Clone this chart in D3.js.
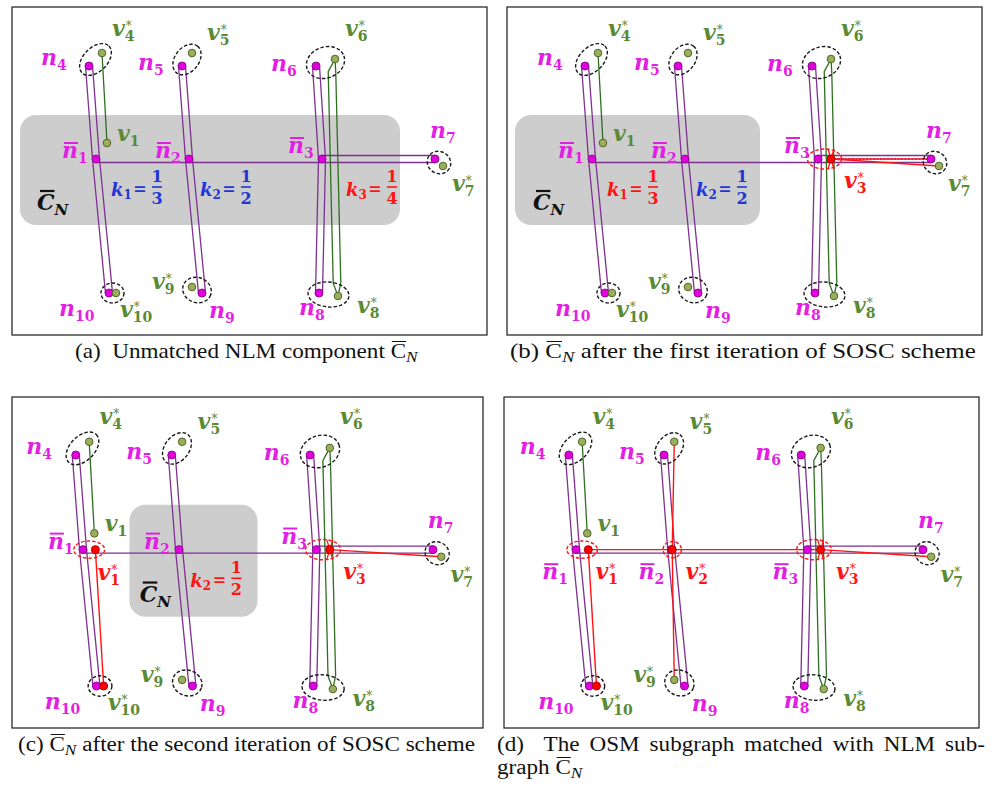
<!DOCTYPE html>
<html><head><meta charset="utf-8">
<script src="https://cdn.jsdelivr.net/npm/d3@7"></script>
<style>body{margin:0;background:#fff}svg{display:block}</style>
</head><body>
<svg id="fig" width="999" height="785"></svg>
<script>
// ---------- graph data (layout units of the base drawing) ----------
const nodeIds = ["n4","v4s","n5","v5s","n6","v6s","n1b","v1","v1s","n2b","v2s","n3b","v3s","n7","v7s","n10","v10s","n9","v9s","n8","v8s","g6","g8"];
const nodeX   = [89, 102, 182, 192, 316, 335, 96, 107, 108, 189, 190, 322, 335, 435, 443, 109, 116, 202, 192, 319, 338, 332, 337];
const nodeY   = [66, 53, 66, 53, 66, 59, 159, 143, 159, 159, 159, 159, 159, 159, 166, 293, 293, 293, 287, 293, 296, 72, 283];

// NLM roads (double lines) and the NLM link joining the junctions
const nlmRoads = [["n4","n1b","n10"], ["n5","n2b","n9"], ["n6","n3b","n8"], ["n3b","n7"]];
const nlmLink  = ["n1b","n2b","n3b"];
// OSM ways
const osmSingle = [["v4s","v1"]];
const osmDouble = ["v6s","g6","g8","v8s"];

const nlmNodes = ["n4","n5","n6","n1b","n2b","n3b","n7","n10","n9","n8"];
const osmNodes = ["v4s","v5s","v6s","v1","v7s","v9s","v8s","v10s"];

// candidate pairs circled with dashed ellipses: [a, b, rx, ry, rotation]
const pairA   = ["n4","n5","n6","n7","n10","n9","n8"];
const pairB   = ["v4s","v5s","v6s","v7s","v10s","v9s","v8s"];
const pairRx  = [19, 17, 19.5, 12, 11.5, 14.5, 20.5];
const pairRy  = [12, 12, 15.5, 11, 10, 12.5, 12.5];
const pairRot = [-45, -52, -20, 30, 0, 20, 5];

// node labels
const labelMain = ["n","v","n","v","n","v","v","n","v","n","v","v","n","n","v"];
const labelSub  = ["4","4","5","5","6","6","1","7","7","10","10","9","9","8","8"];
const labelStar = [0,1,0,1,0,1,0,0,1,0,1,1,0,0,1];
const labelX    = [41,112,138,207,271,345,117,430,452,59,120,152,209,299,357];
const labelY    = [65,36,70,40,71,36,141,138,191,316,317,289,318,315,313];

// per-panel state: (a) (b) (c) (d)
const matched      = [[], ["v3s"], ["v1s","v3s","v10s"], ["v1s","v2s","v3s","v10s"]];
const redRings     = [[], [["n3b","v3s"]], [["n1b","v1s"],["n3b","v3s"]], [["n1b","v1s"],["v2s"],["n3b","v3s"]]];
const redPaths     = [[], [["v3s","v7s"],["v3s","n7"]], [["v1s","v10s"],["v3s","v7s"]],
                      [["v1s","v10s"],["v5s","v2s","v9s"],["v1s","v2s","v3s","v7s"]]];
const bluePaths    = [[], [["v3s","n7"]], [], []];
const junctionSub  = ["1","2","3"];
const junctionX    = [[62,155,288],[62,155,288],[62,155,288],[63,157,288]];
const junctionY    = [[158,158,153],[158,158,153],[158,158,153],[188,188,188]];
const matchSub     = [[], ["3"], ["1","3"], ["1","2","3"]];
const matchX       = [[], [348], [110,348], [115,203,350]];
const matchY       = [[], [188], [189,188], [188,188,188]];
const kSub         = [["1","2","3"], ["1","2"], ["2"], []];
const kDen         = [["3","2","4"], ["3","2"], ["2"], []];
const kCol         = [["blue","blue","red"], ["red","blue"], ["red"], []];
const kX           = {"1":111, "2":200, "3":346};
const kY           = 196;
const boxX0        = [20, 19, 141, null];
const boxX1        = [400, 264, 265, null];
const boxY0 = 115, boxY1 = 225;
const cnX          = [37, 37, 151, null];
const cnY          = 210;

// captions
const capPre  = ["(a)  Unmatched NLM component ", "(b) ", "(c) ", "graph "];
const capPost = ["", " after the first iteration of SOSC scheme", " after the second iteration of SOSC scheme", ""];
const capLineD = "(d)  The OSM subgraph matched with NLM sub-";

// ---------- styling / layout ----------
const C = {
  purple: "#7d3190", green: "#2f6f22", red: "#ff1414", blue: "#2236d8",
  magenta: "#e41fe4", dotMag: "#e000e0", dotMagS: "#8e0d8e",
  dotGreen: "#9aae5c", dotGreenS: "#4f6427", greenTxt: "#5a8a33", box: "#cdcdcd"
};
const LF = "'DejaVu Serif', serif";
const CF = "'Liberation Serif', 'Times New Roman', serif";

const panelBox    = [[12,7,487,335],[507,7,982,335],[12,397,483,728],[504,397,979,728]];
const xDomain = [96, 435], yDomain = [66, 293];
const panelXRange = [[96,435],[592,931],[83,433],[576,923]];
const panelYRange = [[66,293],[66,293],[455,686],[455,686]];
const capPos = [[75,358,343],[510,358,466],[18,751,457],[497,774,null]];

const svg = d3.select("#fig");
svg.append("rect").attr("width", 999).attr("height", 785).attr("fill", "#fff");
const line = d3.line();

function offsetPath(pts, d, taper) {
  const n = pts.length, out = [];
  for (let i = 0; i < n; i++) {
    let nx = 0, ny = 0;
    if (i > 0) { const dx = pts[i][0]-pts[i-1][0], dy = pts[i][1]-pts[i-1][1], L = Math.hypot(dx,dy); nx += -dy/L; ny += dx/L; }
    if (i < n-1) { const dx = pts[i+1][0]-pts[i][0], dy = pts[i+1][1]-pts[i][1], L = Math.hypot(dx,dy); nx += -dy/L; ny += dx/L; }
    const L = Math.hypot(nx, ny); nx /= L; ny /= L;
    const dd = (taper && (i === 0 || i === n-1)) ? 0 : d;
    out.push([pts[i][0] + nx*dd, pts[i][1] + ny*dd]);
  }
  return out;
}

// symbol label: main letter, subscript, optional star stacked over the subscript, optional overbar
function nodeLabel(g, x, y, main, sub, star, bar, color) {
  const t = g.append("text").attr("x", x).attr("y", y).attr("fill", color)
    .attr("font-family", LF).attr("font-weight", "bold").attr("font-style", "italic").attr("font-size", 22);
  t.append("tspan").text(main);
  const mw = t.node().getComputedTextLength();
  t.append("tspan").attr("font-size", 14).attr("font-style", "normal").attr("dy", 5).text(sub);
  const sw = t.node().getComputedTextLength() - mw;
  if (star) t.append("tspan").attr("font-size", 12).attr("font-weight", "normal").attr("font-style", "normal")
    .attr("dx", -sw + 1).attr("dy", -11).text("*");
  if (bar) g.append("line").attr("x1", x + 2).attr("x2", x + mw).attr("y1", y - 15).attr("y2", y - 15)
    .attr("stroke", color).attr("stroke-width", 2);
}

function kLabel(g, x, y, sub, den, color) {
  const t = g.append("text").attr("x", x).attr("y", y).attr("fill", color).attr("font-family", LF)
    .attr("font-weight", "bold").attr("font-style", "italic").attr("font-size", 18);
  t.append("tspan").text("k");
  t.append("tspan").attr("font-size", 12).attr("font-style", "normal").attr("dy", 3).text(sub);
  g.append("text").attr("x", x + 29).attr("y", y - 2).attr("text-anchor", "middle").attr("fill", color)
    .attr("font-family", LF).attr("font-weight", "bold").attr("font-size", 16).text("=");
  const cx = x + 46;
  g.append("text").attr("x", cx).attr("y", y - 14).attr("text-anchor", "middle").attr("fill", color)
    .attr("font-family", LF).attr("font-weight", "bold").attr("font-size", 16).text("1");
  g.append("line").attr("x1", cx - 5).attr("x2", cx + 5).attr("y1", y - 9).attr("y2", y - 9)
    .attr("stroke", color).attr("stroke-width", 1.6);
  g.append("text").attr("x", cx).attr("y", y + 8).attr("text-anchor", "middle").attr("fill", color)
    .attr("font-family", LF).attr("font-weight", "bold").attr("font-size", 16).text(den);
}

// caption line; width fit either by a horizontal stretch or, with a given stretch, by justified spacing
function caption(g, x0, y0, width, pre, cn, post, fixedScale) {
  const cg = g.append("g");
  const t = cg.append("text").attr("x", x0).attr("y", y0).attr("fill", "#111")
    .attr("font-family", CF).attr("font-size", 20).style("white-space", "pre");
  t.append("tspan").text(pre);
  let ci = -1;
  if (cn) {
    ci = pre.length;
    t.append("tspan").text("C");
    t.append("tspan").attr("font-style", "italic").attr("font-size", 15).attr("dy", 4).text("N");
    if (post) t.append("tspan").attr("dy", -4).text(post);
  } else if (post) t.append("tspan").text(post);
  const w = t.node().getComputedTextLength();
  let s = fixedScale || 1;
  if (width && !fixedScale) s = width / w;
  if (width && fixedScale) {
    const n = (pre + post).split(" ").length - 1;
    t.attr("word-spacing", (width / s - w) / n);
  }
  cg.attr("transform", `translate(${x0},0) scale(${s},1) translate(${-x0},0)`);
  if (ci >= 0) {
    const a = t.node().getStartPositionOfChar(ci).x, b = t.node().getEndPositionOfChar(ci).x;
    cg.append("line").attr("x1", a + 1).attr("x2", b).attr("y1", y0 - 16.5).attr("y2", y0 - 16.5)
      .attr("stroke", "#111").attr("stroke-width", 1);
  }
  return s;
}

let capScale = 1;
[0, 1, 2, 3].forEach(i => {
  const g = svg.append("g");
  const sx = d3.scaleLinear().domain(xDomain).range(panelXRange[i]);
  const sy = d3.scaleLinear().domain(yDomain).range(panelYRange[i]);
  const kx = (panelXRange[i][1] - panelXRange[i][0]) / (xDomain[1] - xDomain[0]);
  const ky = (panelYRange[i][1] - panelYRange[i][0]) / (yDomain[1] - yDomain[0]);
  const pt = id => { const k = nodeIds.indexOf(id); return [sx(nodeX[k]), sy(nodeY[k])]; };
  const mid = (a, b) => { const p = pt(a), q = pt(b || a); return [(p[0]+q[0])/2, (p[1]+q[1])/2]; };

  const [bx0, by0, bx1, by1] = panelBox[i];
  g.append("rect").attr("x", bx0).attr("y", by0).attr("width", bx1 - bx0).attr("height", by1 - by0)
    .attr("fill", "none").attr("stroke", "#2b2b2b").attr("stroke-width", 1.3);

  // remaining unmatched component
  if (boxX0[i] !== null) {
    g.append("rect").attr("x", sx(boxX0[i])).attr("y", sy(boxY0))
      .attr("width", sx(boxX1[i]) - sx(boxX0[i])).attr("height", sy(boxY1) - sy(boxY0))
      .attr("rx", 16).attr("fill", C.box);
  }

  // NLM roads
  nlmRoads.forEach(r => {
    const pts = r.map(pt);
    [-3.5, 3.5].forEach(d => g.append("path").attr("d", line(offsetPath(pts, d, false)))
      .attr("fill", "none").attr("stroke", C.purple).attr("stroke-width", 1.3));
  });
  g.append("path").attr("d", line(offsetPath(nlmLink.map(pt), 3.5, false)))
    .attr("fill", "none").attr("stroke", C.purple).attr("stroke-width", 1.3);

  // OSM ways
  osmSingle.forEach(r => g.append("path").attr("d", line(r.map(pt)))
    .attr("fill", "none").attr("stroke", C.green).attr("stroke-width", 1.3));
  [-3.8, 3.8].forEach(d => g.append("path").attr("d", line(offsetPath(osmDouble.map(pt), d, true)))
    .attr("fill", "none").attr("stroke", C.green).attr("stroke-width", 1.3));

  // matched segments
  bluePaths[i].forEach(r => g.append("path").attr("d", line(r.map(pt)))
    .attr("fill", "none").attr("stroke", C.blue).attr("stroke-width", 1.4).attr("stroke-dasharray", "2,1.5"));
  redPaths[i].forEach(r => g.append("path").attr("d", line(r.map(pt)))
    .attr("fill", "none").attr("stroke", C.red).attr("stroke-width", 1.4));
  if (matched[i].includes("v3s")) {
    const [x3, y3] = pt("v3s");
    [[-3,-10],[3,-10],[-3,10],[3,10]].forEach(([dx, dy]) => g.append("line")
      .attr("x1", x3).attr("y1", y3).attr("x2", x3 + dx).attr("y2", y3 + dy)
      .attr("stroke", C.red).attr("stroke-width", 1.3));
  }

  // candidate ellipses
  pairA.forEach((a, j) => {
    const [cx, cy] = mid(a, pairB[j]);
    g.append("ellipse").attr("cx", 0).attr("cy", 0).attr("rx", pairRx[j] * kx).attr("ry", pairRy[j] * ky)
      .attr("transform", `translate(${cx},${cy}) rotate(${pairRot[j]})`)
      .attr("fill", "none").attr("stroke", "#1a1a1a").attr("stroke-width", 1.4).attr("stroke-dasharray", "3.5,2");
  });
  redRings[i].forEach(r => {
    const [cx, cy] = mid(r[0], r[1]);
    const single = r.length === 1;
    const rx = single ? 9 : (r[0] === "n1b" ? 15 : 17), ry = single ? 8 : (r[0] === "n1b" ? 8.5 : 10);
    g.append("ellipse").attr("cx", cx).attr("cy", cy).attr("rx", rx * kx).attr("ry", ry * ky)
      .attr("fill", "none").attr("stroke", C.red).attr("stroke-width", 1.4).attr("stroke-dasharray", "3.5,2");
  });

  // nodes
  nlmNodes.forEach(id => { const [x, y] = pt(id);
    g.append("circle").attr("cx", x).attr("cy", y).attr("r", 4).attr("fill", C.dotMag).attr("stroke", C.dotMagS).attr("stroke-width", 1); });
  osmNodes.filter(id => !matched[i].includes(id)).forEach(id => { const [x, y] = pt(id);
    g.append("circle").attr("cx", x).attr("cy", y).attr("r", 3.8).attr("fill", C.dotGreen).attr("stroke", C.dotGreenS).attr("stroke-width", 1); });
  matched[i].forEach(id => { const [x, y] = pt(id);
    g.append("circle").attr("cx", x).attr("cy", y).attr("r", 4).attr("fill", "#ff0000").attr("stroke", "#b00000").attr("stroke-width", 1); });

  // labels
  labelMain.forEach((m, j) => nodeLabel(g, sx(labelX[j]), sy(labelY[j]), m, labelSub[j], labelStar[j], false,
    m === "n" ? C.magenta : C.greenTxt));
  junctionSub.forEach((s, j) => nodeLabel(g, sx(junctionX[i][j]), sy(junctionY[i][j]), "n", s, 0, true, C.magenta));
  matchSub[i].forEach((s, j) => nodeLabel(g, sx(matchX[i][j]), sy(matchY[i][j]), "v", s, 1, false, C.red));
  kSub[i].forEach((s, j) => kLabel(g, sx(kX[s]), sy(kY), s, kDen[i][j], kCol[i][j] === "red" ? C.red : C.blue));
  if (cnX[i] !== null) {
    const cxl = sx(cnX[i]), cyl = sy(cnY);
    const t = g.append("text").attr("x", cxl).attr("y", cyl).attr("fill", "#111").attr("font-family", LF)
      .attr("font-weight", "bold").attr("font-style", "italic").attr("font-size", 22);
    t.append("tspan").text("C");
    const cw = t.node().getComputedTextLength();
    t.append("tspan").attr("font-size", 15).attr("dy", 5).text("N");
    g.append("line").attr("x1", cxl + 3).attr("x2", cxl + cw).attr("y1", cyl - 19).attr("y2", cyl - 19)
      .attr("stroke", "#111").attr("stroke-width", 2.2);
  }

  // caption
  const [cx0, cy0, cw0] = capPos[i];
  if (i === 3) {
    caption(g, 497, 751, 488, capLineD, false, "", capScale);
    caption(g, cx0, cy0, null, capPre[i], true, capPost[i], capScale);
  } else {
    const s = caption(g, cx0, cy0, cw0, capPre[i], true, capPost[i], null);
    if (i === 2) capScale = s;
  }
});
</script>
</body></html>
